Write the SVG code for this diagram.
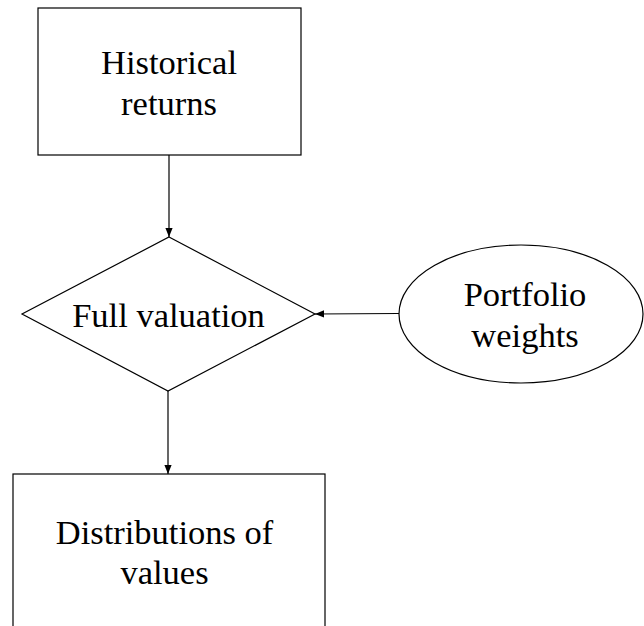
<svg xmlns="http://www.w3.org/2000/svg" width="644" height="626" viewBox="0 0 644 626">
<style>
.s{fill:#fff;stroke:#000;stroke-width:1.2}
.t{font-family:"Liberation Serif","Times New Roman",serif;font-size:34.5px;fill:#000;text-anchor:middle}
.c{stroke:#000;stroke-width:1.2;fill:none;marker-end:url(#a)}
</style>
<defs>
<marker id="a" viewBox="0 0 10 10" refX="10" refY="5" markerWidth="9" markerHeight="9" markerUnits="userSpaceOnUse" orient="auto">
<path d="M0,1 L10,5 L0,9 Z" fill="#000"/>
</marker>
</defs>
<rect width="644" height="626" fill="#fff"/>
<g id="connectors">
<line class="c" x1="169" y1="155" x2="169" y2="237"/>
<line class="c" x1="399" y1="313.5" x2="315" y2="314"/>
<line class="c" x1="168" y1="391" x2="168" y2="474"/>
</g>
<g id="historical">
<rect class="s" x="38" y="8" width="263" height="147"/>
<text class="t" x="169" y="74">Historical</text>
<text class="t" x="169" y="115">returns</text>
</g>
<g id="valuation">
<polygon class="s" points="169,237 315,314 168,391 22,314"/>
<text class="t" x="168.5" y="327">Full valuation</text>
</g>
<g id="weights">
<ellipse class="s" cx="521" cy="314" rx="122" ry="69"/>
<text class="t" x="525" y="306">Portfolio</text>
<text class="t" x="525" y="347">weights</text>
</g>
<g id="distributions">
<rect class="s" x="13" y="474" width="312" height="170"/>
<text class="t" x="164.5" y="544">Distributions of</text>
<text class="t" x="164.5" y="584">values</text>
</g>
</svg>
